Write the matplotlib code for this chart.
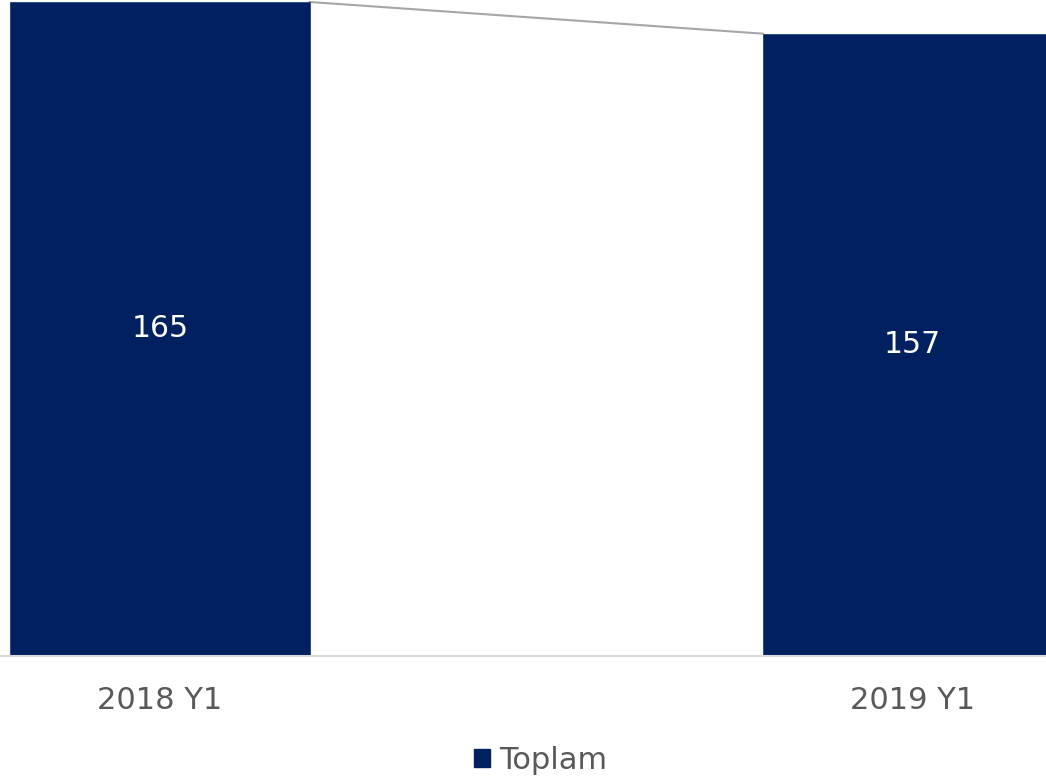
import matplotlib
matplotlib.use("Agg")
import matplotlib.pyplot as plt
from matplotlib.patches import Patch

categories = ["2018 Y1", "2019 Y1"]
values = [165, 157]
series_name = "Toplam"

bar_color = "#002060"
text_gray = "#595959"

plt.rcParams['font.family'] = ['DejaVu Sans']

fig = plt.figure(figsize=(10.46, 7.79), dpi=100)
ax = fig.add_axes([0, 1 - 655.5 / 779, 1, 655.5 / 779])

x = list(range(len(categories)))
w = 0.398
bars = ax.bar(x, values, width=w, color=bar_color, edgecolor="#1f3f80", linewidth=0.6, zorder=2)

# series line connecting bar tops
ax.plot([x[0] + w / 2, x[1] - w / 2], [values[0], values[1]], color="#A6A6A6", linewidth=1.5, zorder=1)

for xi, v in zip(x, values):
    ax.text(xi, v / 2, str(v), ha="center", va="center", color="white", fontsize=21.5)

ax.set_xlim(-0.2126, 1.1774)
ax.set_ylim(0, 165.5)
ax.set_xticks(x)
ax.set_xticklabels(categories, fontsize=22, color=text_gray)
ax.tick_params(axis="x", length=0, pad=22)
ax.set_yticks([])
for s in ["top", "right", "left"]:
    ax.spines[s].set_visible(False)
ax.spines["bottom"].set_color("#D9D9D9")
ax.spines["bottom"].set_linewidth(1.5)
ax.spines["bottom"].set_zorder(3)

handle = Patch(facecolor=bar_color, edgecolor=bar_color)
leg = fig.legend([handle], [series_name], loc="center", bbox_to_anchor=(0.517, 0.024),
                 frameon=False, fontsize=22, handlelength=0.52, handleheight=0.52,
                 handletextpad=0.3, borderpad=0, borderaxespad=0)
for t in leg.get_texts():
    t.set_color(text_gray)

fig.savefig("out.png", dpi=100)
